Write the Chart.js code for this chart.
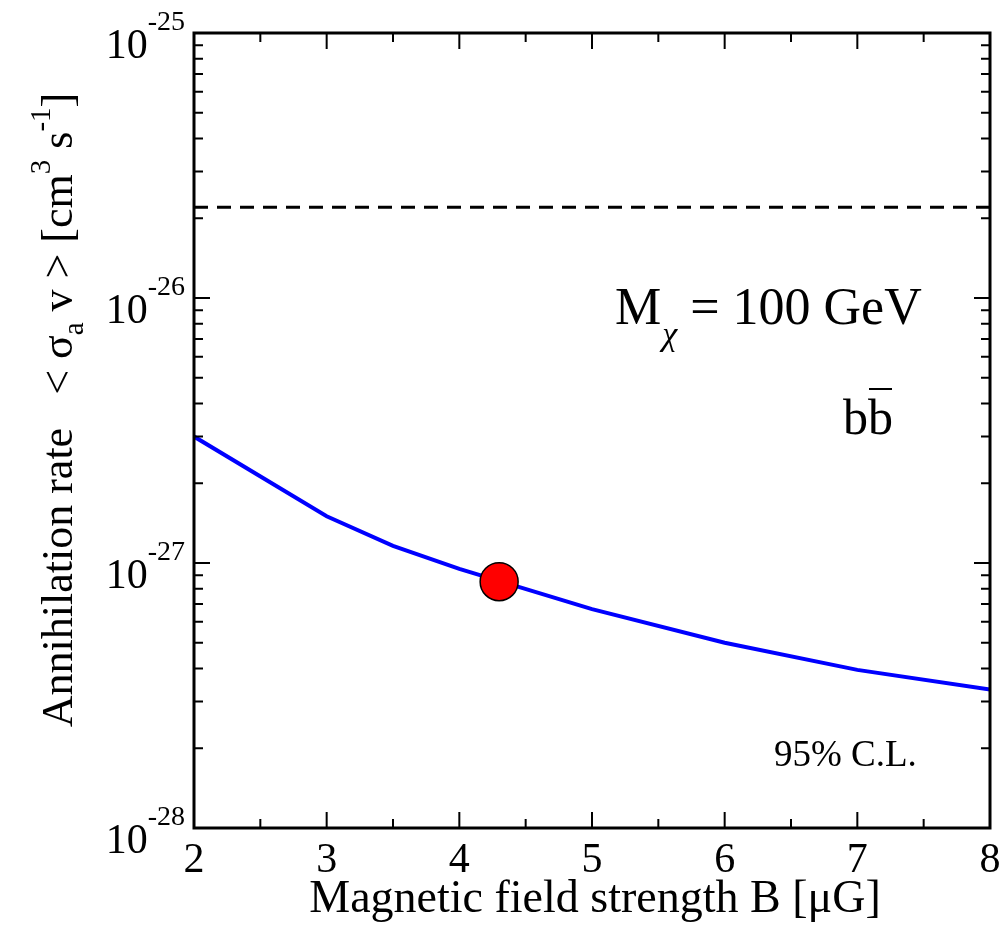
<!DOCTYPE html>
<html>
<head>
<meta charset="utf-8">
<script src="https://cdn.jsdelivr.net/npm/chart.js@4"></script>
<style>
  body { margin: 0; background: #fff; }
  #wrap { width: 1001px; height: 925px; position: relative; }
</style>
</head>
<body>
<div id="wrap"><canvas id="limitChart"></canvas></div>
<script>
// Data
const bField = [2, 3, 3.5, 4, 5, 6, 7, 8];
const sigmaV = [3.0e-27, 1.5e-27, 1.16e-27, 9.5e-28, 6.7e-28, 5.0e-28, 3.95e-28, 3.33e-28];
const benchB = [4.3];
const benchSigma = [8.5e-28];
const thermalB = [2, 8];
const thermalSigma = [2.2e-26, 2.2e-26];

// Tick labels
const xMajor = [2, 3, 4, 5, 6, 7, 8];
const xMinor = [2.5, 3.5, 4.5, 5.5, 6.5, 7.5];
const yDecades = [-28, -27, -26, -25];

const SERIF = '"Liberation Serif", "Times New Roman", serif';

function toXY(xs, ys) {
  return xs.map((x, i) => ({ x: x, y: ys[i] }));
}

// Frame, inward ticks and labels drawn with the chart's own scales
const framePlugin = {
  id: "frame",
  afterDraw(chart) {
    const ctx = chart.ctx;
    const xs = chart.scales.x;
    const ys = chart.scales.y;
    const a = chart.chartArea;
    ctx.save();
    ctx.strokeStyle = "#000";

    // ticks
    ctx.lineWidth = 2;
    xMajor.concat(xMinor).forEach((v) => {
      const px = xs.getPixelForValue(v);
      const len = xMajor.includes(v) ? 16 : 9;
      ctx.beginPath();
      ctx.moveTo(px, a.bottom);
      ctx.lineTo(px, a.bottom - len);
      ctx.moveTo(px, a.top);
      ctx.lineTo(px, a.top + len);
      ctx.stroke();
    });
    yDecades.forEach((d, k) => {
      for (let m = 1; m <= 9; m++) {
        if (k === yDecades.length - 1 && m > 1) break;
        const v = m * Math.pow(10, d);
        const py = ys.getPixelForValue(v);
        const len = m === 1 ? 16 : 9;
        ctx.beginPath();
        ctx.moveTo(a.left, py);
        ctx.lineTo(a.left + len, py);
        ctx.moveTo(a.right, py);
        ctx.lineTo(a.right - len, py);
        ctx.stroke();
      }
    });

    // frame
    ctx.lineWidth = 3;
    ctx.strokeRect(a.left, a.top, a.right - a.left, a.bottom - a.top);

    ctx.fillStyle = "#000";
    // x tick labels
    ctx.font = "42px " + SERIF;
    ctx.textAlign = "center";
    ctx.textBaseline = "alphabetic";
    xMajor.forEach((v) => {
      ctx.fillText(String(v), xs.getPixelForValue(v), a.bottom + 44);
    });

    // y tick labels 10^d
    yDecades.forEach((d) => {
      const py = ys.getPixelForValue(Math.pow(10, d));
      ctx.font = "28px " + SERIF;
      ctx.textAlign = "left";
      const expW = ctx.measureText(String(d)).width;
      const expX = a.left - 9 - expW;
      ctx.fillText(String(d), expX, py - 3);
      ctx.font = "42px " + SERIF;
      ctx.textAlign = "right";
      ctx.fillText("10", expX, py + 25);
    });

    // x title
    ctx.font = "46px " + SERIF;
    ctx.textAlign = "center";
    ctx.fillText("Magnetic field strength B [\u03bcG]", 595, 912);

    // y title, rotated, with sub/superscripts
    const parts = [
      { t: "Annihilation rate   < \u03c3", s: 0 },
      { t: "a", s: 1 },
      { t: " v > [cm", s: 0 },
      { t: "3", s: -1 },
      { t: " s", s: 0 },
      { t: "-1", s: -1 },
      { t: "]", s: 0 },
    ];
    const big = "44px " + SERIF;
    const small = "29px " + SERIF;
    let total = 0;
    parts.forEach((p) => {
      ctx.font = p.s === 0 ? big : small;
      p.w = ctx.measureText(p.t).width;
      total += p.w;
    });
    ctx.save();
    ctx.translate(72, 410);
    ctx.rotate(-Math.PI / 2);
    ctx.textAlign = "left";
    let cx = -total / 2;
    parts.forEach((p) => {
      ctx.font = p.s === 0 ? big : small;
      const dy = p.s === 1 ? 11 : p.s === -1 ? -22 : 0;
      ctx.fillText(p.t, cx, dy);
      cx += p.w;
    });
    ctx.restore();

    // annotations
    ctx.textAlign = "left";
    ctx.font = "52px " + SERIF;
    let tx = 615;
    ctx.fillText("M", tx, 324);
    tx += ctx.measureText("M").width + 1;
    ctx.font = "italic 34px " + SERIF;
    ctx.fillText("\u03c7", tx, 345);
    tx += ctx.measureText("\u03c7").width;
    ctx.font = "52px " + SERIF;
    ctx.fillText(" = 100 GeV", tx, 324);

    ctx.font = "50px " + SERIF;
    ctx.fillText("b", 843, 434);
    const bw = ctx.measureText("b").width;
    ctx.fillText("b", 843 + bw, 434);
    ctx.lineWidth = 2;
    ctx.beginPath();
    ctx.moveTo(843 + bw + 1, 389);
    ctx.lineTo(843 + 2 * bw - 1, 389);
    ctx.stroke();

    ctx.font = "37px " + SERIF;
    ctx.fillText("95% C.L.", 774, 766);

    ctx.restore();
  },
};

const ctx = document.getElementById("limitChart").getContext("2d");
new Chart(ctx, {
  type: "line",
  data: {
    datasets: [
      {
        label: "benchmark",
        data: toXY(benchB, benchSigma),
        showLine: false,
        pointRadius: 19,
        pointBackgroundColor: "#ff0000",
        pointBorderColor: "#000",
        pointBorderWidth: 1.5,
        order: 0,
      },
      {
        label: "limit",
        data: toXY(bField, sigmaV),
        borderColor: "#0000ff",
        borderWidth: 4,
        pointRadius: 0,
        tension: 0,
        order: 1,
      },
      {
        label: "thermal",
        data: toXY(thermalB, thermalSigma),
        borderColor: "#000",
        borderWidth: 3,
        borderDash: [14, 9],
        pointRadius: 0,
        order: 2,
      },
    ],
  },
  options: {
    responsive: true,
    maintainAspectRatio: false,
    animation: false,
    layout: {
      autoPadding: false,
      padding: { top: 33, right: 11, left: 0, bottom: 0 },
    },
    plugins: {
      legend: { display: false },
      tooltip: { enabled: false },
    },
    scales: {
      x: {
        type: "linear",
        min: 2,
        max: 8,
        grid: { display: false },
        border: { display: false },
        ticks: { display: false },
        afterFit: (scale) => { scale.height = 97; },
      },
      y: {
        type: "logarithmic",
        min: 1e-28,
        max: 1e-25,
        grid: { display: false },
        border: { display: false },
        ticks: { display: false },
        afterFit: (scale) => { scale.width = 194; },
      },
    },
  },
  plugins: [framePlugin],
});
</script>
</body>
</html>
